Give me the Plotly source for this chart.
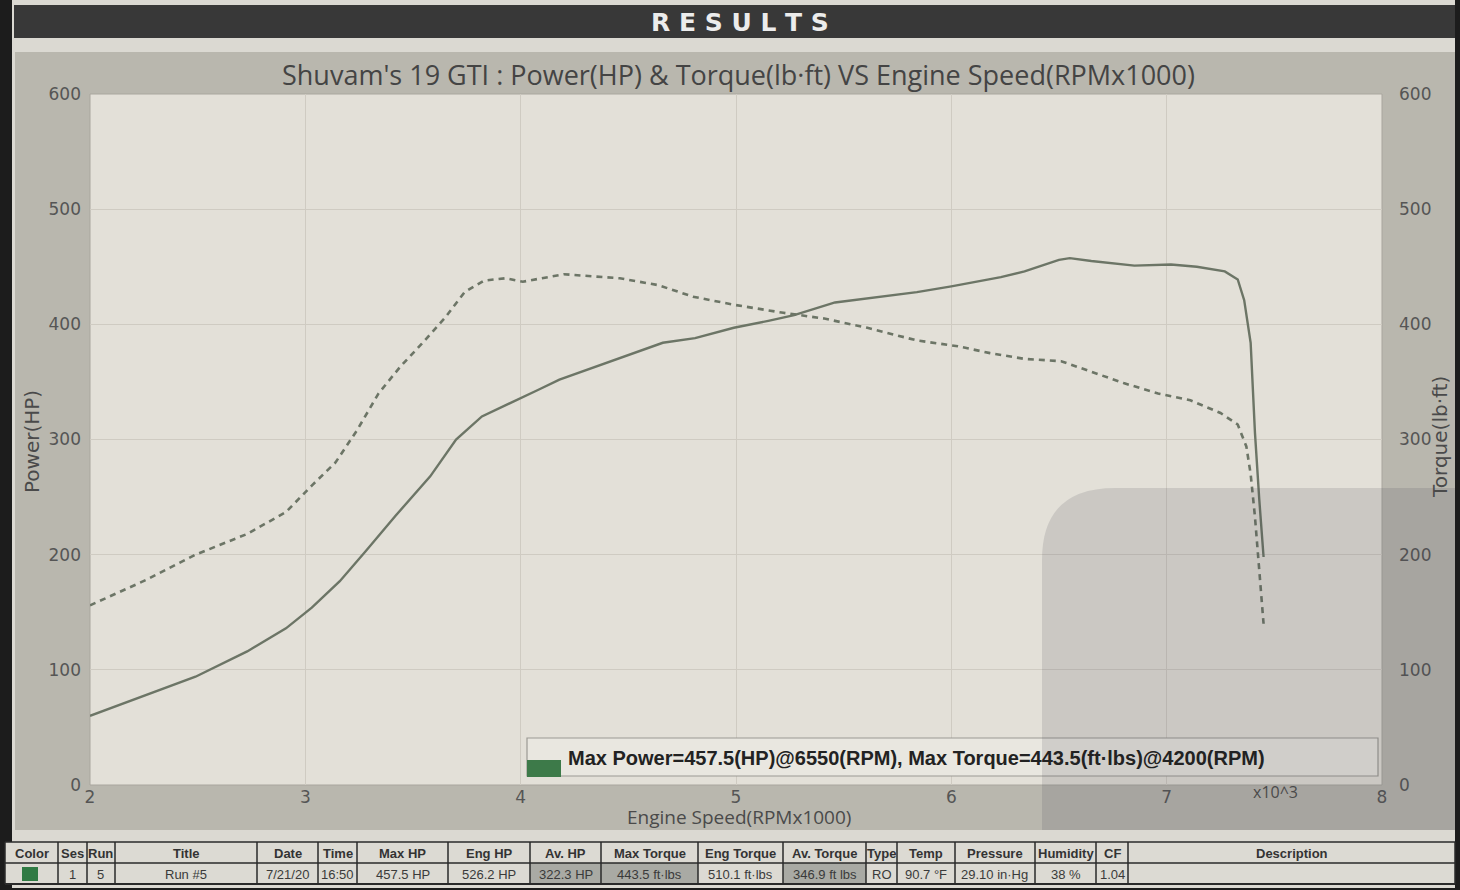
import plotly.graph_objects as go

# ---------------- data ----------------
rpm_power = [2.00, 2.23, 2.49, 2.73, 2.91, 3.03, 3.16, 3.28, 3.42, 3.58, 3.70, 3.82, 3.96,
             4.08, 4.18, 4.33, 4.46, 4.66, 4.81, 4.99, 5.15, 5.27, 5.46, 5.58, 5.84, 6.00,
             6.11, 6.23, 6.34, 6.50, 6.55, 6.65, 6.85, 7.02, 7.14, 7.27, 7.33, 7.36, 7.39,
             7.41, 7.43, 7.45]
power_hp = [60, 76, 94, 116, 136, 154, 177, 203, 234, 268, 300, 320, 332,
            343, 352, 362, 371, 384, 388, 397, 403, 408, 419, 422, 428, 433,
            437, 441, 446, 456, 457.5, 455, 451, 452, 450, 446, 439, 421, 384,
            306, 248, 198]

rpm_torque = [2.00, 2.26, 2.49, 2.73, 2.91, 3.03, 3.14, 3.24, 3.34, 3.44, 3.54, 3.65, 3.74,
              3.83, 3.93, 4.01, 4.20, 4.46, 4.64, 4.80, 4.99, 5.22, 5.41, 5.61, 5.84, 6.03,
              6.18, 6.34, 6.51, 6.65, 6.80, 6.96, 7.11, 7.25, 7.33, 7.37, 7.39, 7.41, 7.43,
              7.45]
torque_lbft = [156, 178, 200, 218, 237, 260, 280, 308, 340, 363, 383, 406, 428,
               438, 440, 437, 443.5, 440, 434, 424, 417, 410, 405, 397, 386, 381,
               375, 370, 368, 359, 349, 340, 334, 323, 313, 294, 270, 233, 189,
               140]

x_ticks = [2, 3, 4, 5, 6, 7, 8]
y_ticks = [0, 100, 200, 300, 400, 500, 600]

table_headers = ["Color", "Ses", "Run", "Title", "Date", "Time", "Max HP", "Eng HP", "Av. HP",
                 "Max Torque", "Eng Torque", "Av. Torque", "Type", "Temp", "Pressure",
                 "Humidity", "CF", "Description"]
table_values = ["", "1", "5", "Run #5", "7/21/20", "16:50", "457.5 HP", "526.2 HP", "322.3 HP",
                "443.5 ft·lbs", "510.1 ft·lbs", "346.9 ft lbs", "RO", "90.7 °F", "29.10 in·Hg",
                "38 %", "1.04", ""]

title_text = "Shuvam's 19 GTI : Power(HP) & Torque(lb·ft) VS Engine Speed(RPMx1000)"
summary_text = "Max Power=457.5(HP)@6550(RPM), Max Torque=443.5(ft·lbs)@4200(RPM)"

# ---------------- layout constants ----------------
W, H = 1460, 890
def px(x):
    return x / W
def py(y):
    return 1 - y / H

LINE = "#6c7566"
TXT = "#4a4a4a"
FONT = "DejaVu Sans"
col_widths = [53, 29, 28, 142, 61, 39, 91, 82, 71, 97, 85, 83, 31, 58, 80, 61, 32, 327]
shaded_cols = (8, 9, 11)

fig = go.Figure()

fig.add_trace(go.Scatter(x=rpm_power, y=power_hp, mode="lines", name="Power",
                         line=dict(color=LINE, width=2.4), showlegend=False))
fig.add_trace(go.Scatter(x=rpm_torque, y=torque_lbft, mode="lines", name="Torque",
                         line=dict(color=LINE, width=2.6, dash="6px,5px"), showlegend=False,
                         yaxis="y2"))

def rect(x0, y0, x1, y1, fill, line_color=None, lw=0, layer="below"):
    return dict(type="rect", xref="paper", yref="paper",
                x0=px(x0), x1=px(x1), y0=py(y1), y1=py(y0),
                fillcolor=fill, layer=layer,
                line=dict(color=line_color or fill, width=lw))

def hline(x0, x1, y, color, w):
    return dict(type="line", xref="paper", yref="paper", x0=px(x0), x1=px(x1),
                y0=py(y), y1=py(y), line=dict(color=color, width=w), layer="above")

def vline(x, y0, y1, color, w):
    return dict(type="line", xref="paper", yref="paper", x0=px(x), x1=px(x),
                y0=py(y0), y1=py(y1), line=dict(color=color, width=w), layer="above")

shapes = [
    rect(12, 0, 1455, 888, "#dbd9d2"),          # paper sheet
    rect(14, 5, 1455, 38, "#383838"),           # RESULTS banner
    rect(15, 52, 1455, 830, "#b9b7ae"),         # grey chart panel
    rect(90, 94, 1382, 785, "#e3e0d8", "#a9a69e", 1),  # plot area
    rect(527, 738, 1378, 776, "#e9e7e0", "#9c9a93", 1.2, "above"),  # summary box
    rect(527, 760, 561, 777, "#3d7a49", None, 0, "above"),          # green square
]
# photo shadow in lower right
shadow_path = ("M {a},{b} L {a},{c} Q {a},{d} {e},{d} L {f},{d} L {f},{b} Z").format(
    a=px(1042), b=py(830), c=py(560), d=py(488), e=px(1115), f=px(1455))
shapes.append(dict(type="path", xref="paper", yref="paper", path=shadow_path,
                   fillcolor="rgba(70,70,80,0.15)", line=dict(width=0), layer="above"))

annotations = [
    dict(text="<b>R E S U L T S</b>", x=px(740), y=py(22), xref="paper", yref="paper",
         showarrow=False, font=dict(family=FONT, size=25, color="#ececec"),
         xanchor="center", yanchor="middle"),
    dict(text=title_text, x=px(738), y=py(74), xref="paper", yref="paper",
         showarrow=False, font=dict(family="Open Sans", size=27, color="#444444"),
         xanchor="center", yanchor="middle"),
    dict(text="Power(HP)", x=px(32), y=py(442), xref="paper", yref="paper", textangle=-90,
         showarrow=False, font=dict(family=FONT, size=20, color=TXT),
         xanchor="center", yanchor="middle"),
    dict(text="Torque(lb·ft)", x=px(1440), y=py(437), xref="paper", yref="paper", textangle=-90,
         showarrow=False, font=dict(family=FONT, size=20, color=TXT),
         xanchor="center", yanchor="middle"),
    dict(text="Engine Speed(RPMx1000)", x=px(739), y=py(817), xref="paper", yref="paper",
         showarrow=False, font=dict(family="Open Sans", size=19, color=TXT),
         xanchor="center", yanchor="middle"),
    dict(text="x10^3", x=px(1275), y=py(792), xref="paper", yref="paper",
         showarrow=False, font=dict(family="Open Sans", size=16, color=TXT),
         xanchor="center", yanchor="middle"),
    dict(text="<b>" + summary_text + "</b>", x=px(566), y=py(758), xref="paper", yref="paper",
         showarrow=False, font=dict(family="Liberation Sans", size=20, color="#222222"),
         xanchor="left", yanchor="middle"),
]

# ---------------- results table (drawn with shapes + text) ----------------
T_X0, T_TOP, T_MID, T_BOT = 5, 842, 863, 884
shapes.append(rect(T_X0, T_TOP, 1455, T_BOT, "#dcdad3", None, 0, "above"))
edges = [T_X0]
for w in col_widths:
    edges.append(edges[-1] + w)
tfont = "Liberation Sans Narrow, Liberation Sans, Arial"
for i, (h, v) in enumerate(zip(table_headers, table_values)):
    xa, xb = edges[i], edges[i + 1]
    if i in shaded_cols:
        shapes.append(rect(xa, T_MID, xb, T_BOT, "#a9aaa4", None, 0, "above"))
    annotations.append(dict(text="<b>%s</b>" % h, x=px((xa + xb) / 2), y=py((T_TOP + T_MID) / 2 + 1),
                            xref="paper", yref="paper", showarrow=False,
                            font=dict(family=tfont, size=13, color="#333333"),
                            xanchor="center", yanchor="middle"))
    if v:
        annotations.append(dict(text=v, x=px((xa + xb) / 2), y=py((T_MID + T_BOT) / 2 + 1),
                                xref="paper", yref="paper", showarrow=False,
                                font=dict(family=tfont, size=13, color="#3a3a3a"),
                                xanchor="center", yanchor="middle"))
# colour swatch
shapes.append(rect(22, 867, 38, 881, "#2f7a43", None, 0, "above"))
# grid lines of table
shapes.append(hline(T_X0, 1455, T_TOP, "#2a2a2a", 1.5))
shapes.append(hline(T_X0, 1455, T_MID, "#2a2a2a", 1.5))
shapes.append(hline(T_X0, 1455, T_BOT, "#2a2a2a", 2))
for e in edges:
    shapes.append(vline(e, T_TOP, T_BOT, "#2a2a2a", 1.5))

axis_font = dict(family=FONT, size=17, color="#555555")
fig.update_layout(
    width=W, height=H, autosize=False,
    margin=dict(l=0, r=0, t=0, b=0, pad=0),
    paper_bgcolor="#1c1c1c",
    plot_bgcolor="rgba(0,0,0,0)",
    shapes=shapes,
    annotations=annotations,
    xaxis=dict(domain=[px(90), px(1382)], range=[2, 8], tickvals=x_ticks,
               ticktext=[str(v) for v in x_ticks], showgrid=True, gridcolor="#cfcbc2",
               gridwidth=1, zeroline=False, showline=False, tickfont=axis_font,
               ticks="", ticklabelstandoff=0, fixedrange=True, automargin=False),
    yaxis=dict(domain=[py(785), py(94)], range=[0, 600], tickvals=y_ticks,
               showgrid=True, gridcolor="#cfcbc2", gridwidth=1, zeroline=False,
               showline=False, tickfont=axis_font, ticks="", ticklabelstandoff=8,
               fixedrange=True, automargin=False),
    yaxis2=dict(overlaying="y", side="right", range=[0, 600], tickvals=y_ticks,
                showgrid=False, zeroline=False, showline=False, tickfont=axis_font,
                ticks="", ticklabelstandoff=16, fixedrange=True, automargin=False),
)

fig.write_html("out.html", config={"displayModeBar": False},
               post_script="document.body.style.margin='0';")
